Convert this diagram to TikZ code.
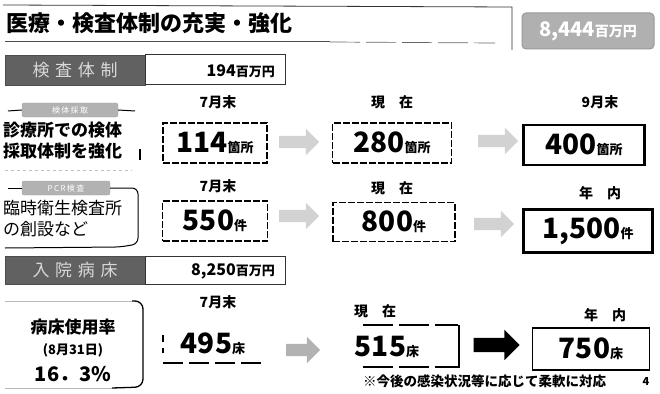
\documentclass[tikz,border=0pt]{standalone}
\usepackage{fontspec}
\setmainfont{Noto Sans CJK JP}
\usetikzlibrary{shapes.arrows}
\newcommand{\valtext}[3]{{\fontsize{#1}{#1}\selectfont\bfseries #2}{\fontsize{13}{13}\selectfont\bfseries #3}}
\tikzset{
  hdr/.style={font=\bfseries\fontsize{14}{14}\selectfont, inner sep=0pt},
  curbox/.style={draw, line width=1.3pt, dash pattern=on 7pt off 2pt, minimum width=104pt, minimum height=40pt, inner sep=0pt},
  goalbox/.style={draw, line width=2.2pt, minimum height=40pt, inner sep=0pt},
  plainbox/.style={minimum width=100pt, minimum height=40pt, inner sep=0pt},
  garrow/.style={single arrow, draw=none, fill=gray!35, inner sep=6pt, single arrow head extend=7pt, minimum height=40pt},
  band/.style={fill=black!62, draw=black!70, minimum width=140pt, minimum height=30pt, inner sep=0pt, text=white!85!black, font=\fontsize{17}{17}\selectfont},
  bandw/.style={draw=black!80, line width=1pt, minimum width=140pt, minimum height=30pt, inner sep=0pt},
  tab/.style={fill=gray!60, draw=gray!70, rounded corners=2pt, minimum height=14pt, inner sep=0pt, text=white, font=\fontsize{8}{8}\selectfont},
  lefttxt/.style={align=left, anchor=west, inner sep=0pt, font=\bfseries\fontsize{17}{21}\selectfont},
}
\begin{document}
\begin{tikzpicture}[x=1pt,y=-1pt]
\useasboundingbox (0,0) rectangle (660,393);
% title
\draw[black!80, line width=0.8pt] (3,5) -- (512,7) -- (512,50);
\node[anchor=west, inner sep=0pt, font=\bfseries\fontsize{22}{22}\selectfont] (title) at (6,23) {医療・検査体制の充実・強化};
\draw[black!70, line width=0.7pt] (5,41) -- (330,41);
\draw[black!60, line width=0.7pt, dash pattern=on 30pt off 6pt] (330,42) -- (495,43);
\node[fill=gray!62, draw=gray!80, line width=1pt, rounded corners=4pt, minimum width=132pt, minimum height=36pt, text=white, inner sep=0pt] (badge) at (588,31) {{\bfseries\fontsize{20}{20}\selectfont 8,444}{\bfseries\fontsize{14}{14}\selectfont 百万円}};
% band 1
\node[band] (band1) at (75,70) {検\,\,査\,\,体\,\,制};
\node[bandw] (band1w) at (215,70) {};
\node[anchor=east, inner sep=0pt] (budget1) at (275,71) {\valtext{16}{194}{百万円}};
% row 1 left
\node[tab, minimum width=96pt] (tab1) at (70,110) {検\,体\,採\,取};
\draw[line width=1pt] (8,111) -- (tab1.west);
\draw[line width=1pt] (tab1.east) -- (135,111);
\node[lefttxt] (left1) at (3,141) {診療所での検体\\採取体制を強化};
\draw[line width=1.2pt] (140,149) -- (140,160);
\draw[gray!50, dashed] (5,170) -- (132,170);
% row 1 values
\node[hdr] (h1a) at (218,102) {7月末};
\node[curbox] (b1a) at (215,143) {\valtext{28}{114}{箇所}};
\node[garrow] (a1a) at (296,142) {};
\node[hdr] (h1b) at (392,102) {現\quad 在};
\node[curbox, minimum width=119pt] (b1b) at (392,143) {\valtext{28}{280}{箇所}};
\node[garrow] (a1b) at (495,141) {};
\node[hdr] (h1c) at (600,102) {9月末};
\node[goalbox, minimum width=121pt] (b1c) at (584,145) {\valtext{28}{400}{箇所}};
% row 2 left
\node[tab, minimum width=88pt] (tab2) at (66,188) {P\,C\,R\,検\,査};
\draw[line width=1pt] (8,188) -- (tab2.west);
\draw[line width=1pt, rounded corners=6pt] (tab2.east) -- (138,188) -- (138,244) -- (120,247) -- (5,248);
\node[lefttxt, font=\fontsize{17}{21}\selectfont] (left2) at (3,219) {臨時衛生検査所\\の創設など};
% row 2 values
\node[hdr] (h2a) at (218,186) {7月末};
\node[curbox, minimum width=105pt] (b2a) at (215,221) {\valtext{28}{550}{件}};
\node[garrow] (a2a) at (296,216) {};
\node[hdr] (h2b) at (392,188) {現\quad 在};
\node[curbox, minimum width=122pt, minimum height=39pt] (b2b) at (394,222) {\valtext{28}{800}{件}};
\node[garrow] (a2b) at (491,224) {};
\node[hdr] (h2c) at (600,193) {年\quad 内};
\node[goalbox, minimum width=129pt, minimum height=43pt] (b2c) at (588,231) {\valtext{28}{1,500}{件}};
% band 2
\node[band, minimum height=28pt] (band2) at (75,270) {入\,\,院\,\,病\,\,床};
\node[bandw, minimum height=28pt] (band2w) at (215,270) {};
\node[anchor=east, inner sep=0pt] (budget2) at (275,271) {\valtext{16}{8,250}{百万円}};
% row 3 left
\draw[gray!55, line width=0.8pt] (5,301) -- (132,301);
\draw[line width=1.3pt, rounded corners=8pt] (132,301) -- (143,301) -- (143,387) -- (112,388);
\draw[gray!55, line width=0.8pt] (5,388) -- (112,388);
\node[inner sep=0pt, font=\bfseries\fontsize{17}{17}\selectfont] (left3a) at (73,327) {病床使用率};
\node[inner sep=0pt, font=\bfseries\fontsize{13}{13}\selectfont] (left3b) at (73,350) {(8月31日)};
\node[inner sep=0pt, font=\bfseries\fontsize{20}{20}\selectfont] (left3c) at (73,374) {16．3\%};
% row 3 values
\node[hdr] (h3a) at (218,302) {7月末};
\node[plainbox] (b3a) at (213,344) {\valtext{28}{495}{床}};
\draw[line width=1.2pt] (163,335) -- (163,342);
\draw[line width=1.2pt] (163,348) -- (163,353);
\draw[line width=1.2pt, dash pattern=on 20pt off 6pt] (163,363) -- (262,363);
\node[garrow, fill=gray!60, minimum height=34pt] (a3a) at (300,350) {};
\node[hdr] (h3b) at (375,311) {現\quad 在};
\node[plainbox] (b3b) at (387,347) {\valtext{28}{515}{床}};
\draw[line width=1.2pt, dash pattern=on 30pt off 6pt] (363,325) -- (458,325);
\draw[line width=1.4pt] (459,325) -- (459,368);
\draw[line width=1.2pt, dash pattern=on 30pt off 6pt] (363,367) -- (458,367);
\node[single arrow, fill=black, inner sep=7pt, single arrow head extend=8pt, minimum height=46pt] (a3b) at (493,345) {};
\node[hdr] (h3c) at (605,315) {年\quad 内};
\node[draw, line width=1.6pt, minimum width=117pt, minimum height=42pt, inner sep=0pt] (b3c) at (591,349) {\valtext{28}{750}{床}};
% footnote
\node[anchor=west, inner sep=0pt, font=\bfseries\fontsize{13.5}{13.5}\selectfont] (note) at (363,381) {※今後の感染状況等に応じて柔軟に対応};
\node[inner sep=0pt, font=\bfseries\fontsize{11}{11}\selectfont] (page) at (646,382) {4};
\end{tikzpicture}
\end{document}
